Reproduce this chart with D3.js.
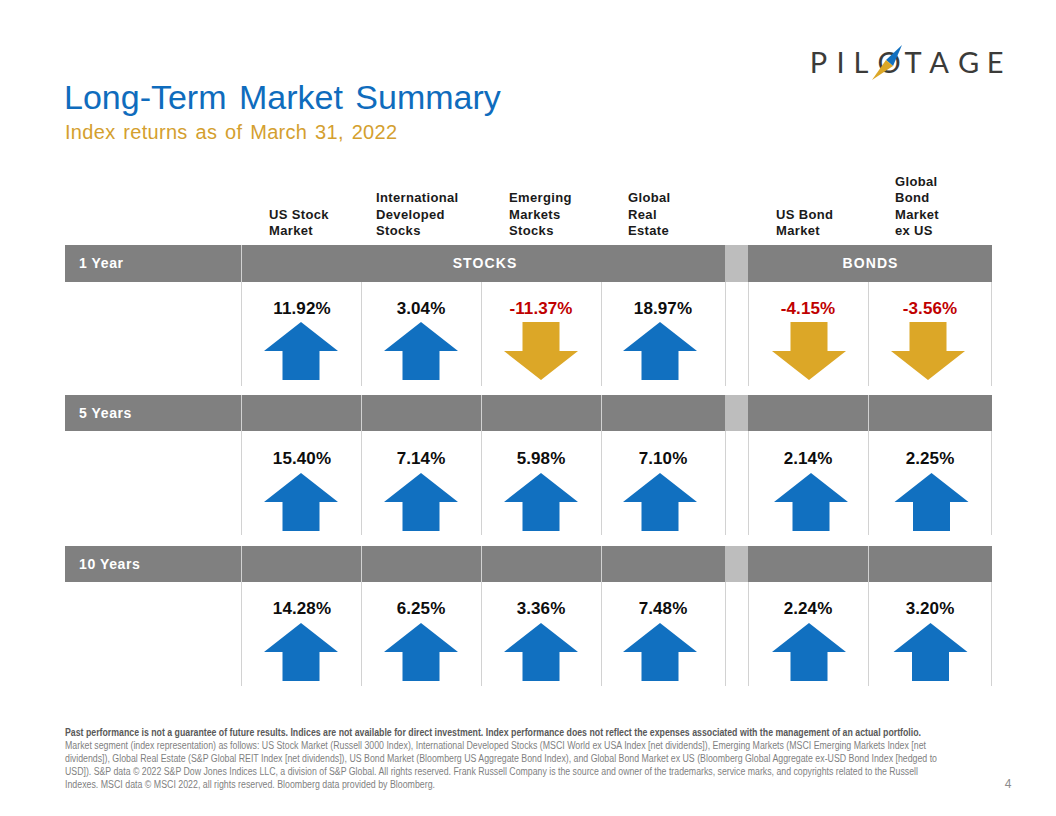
<!DOCTYPE html>
<html>
<head>
<meta charset="utf-8">
<script src="https://cdn.jsdelivr.net/npm/d3@7"></script>
<style>
  html, body { margin: 0; padding: 0; background: #fff; }
  svg { display: block; }
  text { font-family: "Liberation Sans", Arial, sans-serif; }
</style>
</head>
<body>
<div id="chart"></div>
<script>
'use strict';

// Chart values
var stockColumns = [ 'US Stock Market', 'International Developed Stocks', 'Emerging Markets Stocks', 'Global Real Estate' ];
var bondColumns = [ 'US Bond Market', 'Global Bond Market ex US' ];
var headerLines = [
  [ 'US Stock', 'Market' ],
  [ 'International', 'Developed', 'Stocks' ],
  [ 'Emerging', 'Markets', 'Stocks' ],
  [ 'Global', 'Real', 'Estate' ],
  [ 'US Bond', 'Market' ],
  [ 'Global', 'Bond', 'Market', 'ex US' ]
];
var periods = [ '1 Year', '5 Years', '10 Years' ];
var returns1Year = [ 11.92, 3.04, -11.37, 18.97, -4.15, -3.56 ];
var returns5Years = [ 15.40, 7.14, 5.98, 7.10, 2.14, 2.25 ];
var returns10Years = [ 14.28, 6.25, 3.36, 7.48, 2.24, 3.20 ];
var footnotes = [
  'Past performance is not a guarantee of future results. Indices are not available for direct investment. Index performance does not reflect the expenses associated with the management of an actual portfolio.',
  'Market segment (index representation) as follows: US Stock Market (Russell 3000 Index), International Developed Stocks (MSCI World ex USA Index [net dividends]), Emerging Markets (MSCI Emerging Markets Index [net',
  'dividends]), Global Real Estate (S&P Global REIT Index [net dividends]), US Bond Market (Bloomberg US Aggregate Bond Index), and Global Bond Market ex US (Bloomberg Global Aggregate ex-USD Bond Index [hedged to',
  'USD]). S&P data \u00A9 2022 S&P Dow Jones Indices LLC, a division of S&P Global. All rights reserved. Frank Russell Company is the source and owner of the trademarks, service marks, and copyrights related to the Russell',
  'Indexes. MSCI data \u00A9 MSCI 2022, all rights reserved. Bloomberg data provided by Bloomberg.'
];
var footnoteWidths = [ 856, 861, 872, 853, 370 ];
var logoLetters = [ 'P', 'I', 'L', 'O', 'T', 'A', 'G', 'E' ];

var allReturns = [ returns1Year, returns5Years, returns10Years ];
var allColumns = stockColumns.concat( bondColumns );

var BLUE = '#1170c0';
var GOLD = '#dca727';
var RED = '#c00000';
var BAND = '#808080';
var GAP = '#bdbdbd';
var RULE = '#d2d2d2';

var svg = d3.select( '#chart' ).append( 'svg' )
  .attr( 'width', 1056 )
  .attr( 'height', 816 );

// Scales
var xStocks = d3.scaleBand().domain( stockColumns ).range( [ 241.5, 721.5 ] );
var xBonds = d3.scaleBand().domain( bondColumns ).range( [ 748.5, 988.5 ] );
var yBand = d3.scaleOrdinal().domain( periods ).range( [ 245, 395, 546 ] );
var bandHeight = d3.scaleOrdinal().domain( periods ).range( [ 37, 36, 36 ] );
var yRow = d3.scaleOrdinal().domain( periods ).range( [ 282, 431, 582 ] );
var yValue = d3.scaleOrdinal().domain( periods ).range( [ 314, 464, 614 ] );
var yArrow = d3.scaleOrdinal().domain( periods ).range( [ 322, 473, 623 ] );
var valueX = d3.scaleOrdinal().domain( allColumns ).range( [ 302, 421, 541, 663, 808, 930 ] );
var headerX = d3.scaleOrdinal().domain( allColumns ).range( [ 269, 376, 509, 628, 776, 895 ] );
var logoX = d3.scaleOrdinal().domain( logoLetters ).range( [ 818.5, 840.5, 861, 889, 913, 939, 968.5, 995 ] );

function columnLeft( col ) {
  return stockColumns.indexOf( col ) >= 0 ? xStocks( col ) : xBonds( col );
}

// Arrows do not sit quite centred in the source, the bond ones drift per row
function arrowCenter( col, r ) {
  var cx = columnLeft( col ) + 59.5;
  if ( col === 'Global Real Estate' ) cx -= 1;
  if ( col === 'US Bond Market' ) cx += [ 1, 3, 1 ][ r ];
  if ( col === 'Global Bond Market ex US' ) cx += [ 0, 3.5, 2.5 ][ r ];
  return cx;
}

// Title block
svg.append( 'text' )
  .attr( 'x', 64 ).attr( 'y', 109 )
  .attr( 'fill', '#0f6cbd' )
  .style( 'font-size', '34px' )
  .style( 'word-spacing', '3px' )
  .text( 'Long-Term Market Summary' );

svg.append( 'text' )
  .attr( 'x', 65 ).attr( 'y', 139 )
  .attr( 'fill', '#d49f2f' )
  .style( 'font-size', '20px' )
  .style( 'letter-spacing', '0.3px' )
  .style( 'word-spacing', '2px' )
  .text( 'Index returns as of March 31, 2022' );

// Logo
var logo = svg.append( 'g' );
logo.selectAll( 'text' )
  .data( logoLetters )
  .join( 'text' )
  .attr( 'x', function( d ) { return logoX( d ); } )
  .attr( 'y', 73 )
  .attr( 'text-anchor', 'middle' )
  .attr( 'fill', '#3b3b39' )
  .style( 'font-family', 'Lato' )
  .style( 'font-size', '29px' )
  .text( function( d ) { return d; } );
logo.append( 'path' )
  .attr( 'd', 'M902,45 L893,66 L886,60 Z' )
  .attr( 'fill', BLUE );
logo.append( 'path' )
  .attr( 'd', 'M872,80 L886,60 L893,66 Z' )
  .attr( 'fill', GOLD );

// Column headers, stacked up from the bottom line
allColumns.forEach( function( col, i ) {
  var lines = headerLines[ i ];
  svg.append( 'g' ).selectAll( 'text' )
    .data( lines )
    .join( 'text' )
    .attr( 'x', headerX( col ) )
    .attr( 'y', function( d, j ) { return 235 - ( lines.length - 1 - j ) * 16.4; } )
    .attr( 'fill', '#1a1a1a' )
    .style( 'font-size', '13px' )
    .style( 'font-weight', 'bold' )
    .style( 'letter-spacing', '0.35px' )
    .text( function( d ) { return d; } );
} );

// Upright or inverted block arrow, centred on cx
function arrowPath( cx, top, value ) {
  var dir = value >= 0 ? 1 : -1;
  var tipY = value >= 0 ? top : top + 58;
  var line = d3.line();
  return line( [
    [ cx, tipY ],
    [ cx + 37, tipY + dir * 29 ],
    [ cx + 18.5, tipY + dir * 29 ],
    [ cx + 18.5, tipY + dir * 58 ],
    [ cx - 18.5, tipY + dir * 58 ],
    [ cx - 18.5, tipY + dir * 29 ],
    [ cx - 37, tipY + dir * 29 ]
  ] ) + 'Z';
}

// Rows
periods.forEach( function( period, r ) {
  var top = yBand( period );
  var h = bandHeight( period );
  var rowTop = yRow( period );
  var g = svg.append( 'g' );

  g.append( 'rect' )
    .attr( 'x', 65 ).attr( 'y', top )
    .attr( 'width', 927 ).attr( 'height', h )
    .attr( 'fill', BAND );
  g.append( 'rect' )
    .attr( 'x', 725 ).attr( 'y', top )
    .attr( 'width', 23 ).attr( 'height', h )
    .attr( 'fill', GAP );

  g.append( 'text' )
    .attr( 'x', 79 ).attr( 'y', top + h / 2 + 4.5 )
    .attr( 'fill', '#fff' )
    .style( 'font-size', '14px' )
    .style( 'font-weight', 'bold' )
    .style( 'letter-spacing', '0.6px' )
    .text( period );

  // Rules through the band: the first band only splits off the label column
  var bandRules = r === 0 ? [ 241.5 ] :
    allColumns.map( columnLeft ).filter( function( x ) { return x !== 748.5; } );
  g.selectAll( 'line.band' )
    .data( bandRules )
    .join( 'line' )
    .attr( 'class', 'band' )
    .attr( 'x1', function( d ) { return d; } )
    .attr( 'x2', function( d ) { return d; } )
    .attr( 'y1', top )
    .attr( 'y2', top + h )
    .attr( 'stroke', RULE );

  // Rules under the band
  var rowRules = allColumns.map( columnLeft ).concat( [ 725.5, 991.5 ] );
  g.selectAll( 'line.row' )
    .data( rowRules )
    .join( 'line' )
    .attr( 'class', 'row' )
    .attr( 'x1', function( d ) { return d; } )
    .attr( 'x2', function( d ) { return d; } )
    .attr( 'y1', rowTop )
    .attr( 'y2', rowTop + 104 )
    .attr( 'stroke', RULE );

  var cells = d3.zip( allColumns, allReturns[ r ] );

  g.selectAll( 'path' )
    .data( cells )
    .join( 'path' )
    .attr( 'd', function( d ) { return arrowPath( arrowCenter( d[ 0 ], r ), yArrow( period ), d[ 1 ] ); } )
    .attr( 'fill', function( d ) { return d[ 1 ] >= 0 ? BLUE : GOLD; } );

  g.selectAll( 'text.value' )
    .data( cells )
    .join( 'text' )
    .attr( 'class', 'value' )
    .attr( 'x', function( d ) { return valueX( d[ 0 ] ); } )
    .attr( 'y', yValue( period ) )
    .attr( 'text-anchor', 'middle' )
    .attr( 'fill', function( d ) { return d[ 1 ] >= 0 ? '#0d0d0d' : RED; } )
    .style( 'font-size', '17px' )
    .style( 'font-weight', 'bold' )
    .style( 'letter-spacing', '0.1px' )
    .text( function( d ) { return d[ 1 ].toFixed( 2 ) + '%'; } );
} );

// Group titles in the first band
svg.selectAll( 'text.group' )
  .data( [ [ 'STOCKS', 485 ], [ 'BONDS', 870.5 ] ] )
  .join( 'text' )
  .attr( 'class', 'group' )
  .attr( 'x', function( d ) { return d[ 1 ]; } )
  .attr( 'y', 268 )
  .attr( 'text-anchor', 'middle' )
  .attr( 'fill', '#fff' )
  .style( 'font-size', '14px' )
  .style( 'font-weight', 'bold' )
  .style( 'letter-spacing', '1.1px' )
  .text( function( d ) { return d[ 0 ]; } );

// Footnote
svg.selectAll( 'text.note' )
  .data( footnotes )
  .join( 'text' )
  .attr( 'class', 'note' )
  .attr( 'x', 65 )
  .attr( 'y', function( d, i ) { return 736 + i * 13; } )
  .attr( 'textLength', function( d, i ) { return footnoteWidths[ i ]; } )
  .attr( 'lengthAdjust', 'spacingAndGlyphs' )
  .attr( 'fill', function( d, i ) { return i === 0 ? '#595959' : '#7f7f7f'; } )
  .style( 'font-size', '10px' )
  .style( 'font-weight', function( d, i ) { return i === 0 ? 'bold' : 'normal'; } )
  .text( function( d ) { return d; } );

svg.append( 'text' )
  .attr( 'x', 1008 ).attr( 'y', 788 )
  .attr( 'text-anchor', 'middle' )
  .attr( 'fill', '#8c8c8c' )
  .style( 'font-size', '12px' )
  .text( '4' );
</script>
</body>
</html>
